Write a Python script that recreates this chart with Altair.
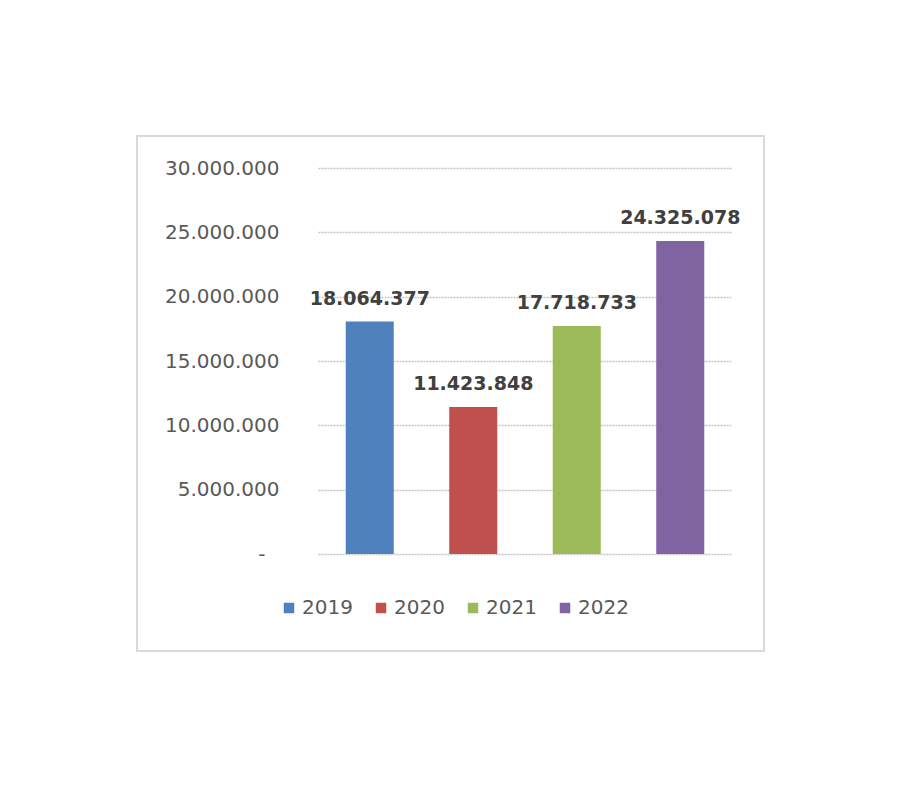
import altair as alt
import pandas as pd

years = ["2019", "2020", "2021", "2022"]
values = [18064377, 11423848, 17718733, 24325078]
colors = ["#4f81bd", "#c0504d", "#9bbb59", "#8064a2"]
y_ticks = [0, 5000000, 10000000, 15000000, 20000000, 25000000, 30000000]

df = pd.DataFrame({"year": years, "value": values})

FONT = "DejaVu Sans"

x = alt.X("year:N", sort=years, axis=None,
          scale=alt.Scale(paddingInner=0.536, paddingOuter=0.268))
y = alt.Y("value:Q",
          scale=alt.Scale(domain=[0, 30000000], nice=False),
          axis=alt.Axis(values=y_ticks, title=None, domain=False, ticks=False,
                        labelFont=FONT, labelFontSize=20, labelColor="#595959",
                        labelPadding={"condition": {"test": "datum.value == 0", "value": 53},
                                      "value": 39},
                        labelExpr="datum.value == 0 ? '-' : format(datum.value, ',d')",
                        grid=True, gridColor="#c4c4c4", gridDash=[2, 1], gridWidth=1.4))

color = alt.Color("year:N", sort=years,
                  scale=alt.Scale(domain=years, range=colors),
                  legend=alt.Legend(title=None, orient="none", legendX=-39, legendY=430,
                                    direction="horizontal", columns=4,
                                    symbolType="square", symbolSize=110,
                                    symbolStrokeWidth=0,
                                    labelFont=FONT, labelFontSize=20, labelColor="#595959",
                                    labelOffset=3, columnPadding=18, padding=0))

frame = alt.Chart(pd.DataFrame({"k": [0]})).mark_rect(
    fill="transparent", stroke="#d9d9d9", strokeWidth=2
).encode(x=alt.value(-181), x2=alt.value(446), y=alt.value(-32), y2=alt.value(483))

bars = alt.Chart(df).mark_bar().encode(x=x, y=y, color=color)

labels = alt.Chart(df).mark_text(
    font=FONT, fontSize=19, fontWeight="bold", color="#404040",
    baseline="alphabetic", dy=-17
).encode(x=x, y=y, text=alt.Text("value:Q", format=",d"))

chart = alt.layer(frame, bars, labels).properties(
    width=414, height=386,
    autosize=alt.AutoSizeParams(type="none"),
    padding={"left": 310, "top": 160, "right": 150, "bottom": 150},
).configure(
    locale={"number": {"decimal": ",", "thousands": ".", "grouping": [3], "currency": ["", ""]}}
).configure_view(stroke=None)

chart.save("out.html", embed_options={"renderer": "svg", "actions": False})
